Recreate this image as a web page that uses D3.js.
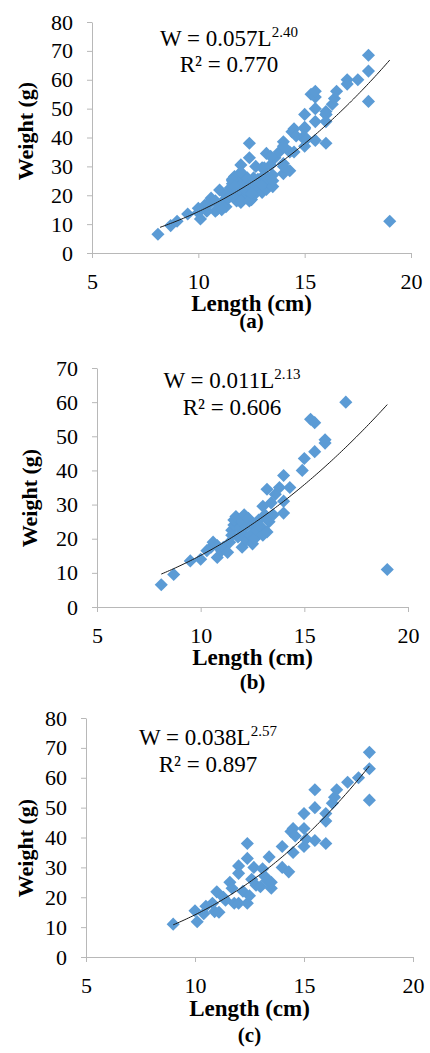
<!DOCTYPE html>
<html>
<head>
<meta charset="utf-8">
<script src="https://cdn.jsdelivr.net/npm/d3@7"></script>
<style>
  body { margin: 0; background: #fff; }
  svg text { font-family: "Liberation Serif", "Times New Roman", serif; fill: #000; }
</style>
</head>
<body>
<div id="chart"></div>
<script>
// Length (cm), weight (g)
const pointsB = [
  [8.1, 6.5], [8.7, 9.5], [9.5, 13.5], [10.0, 14.0], [10.3, 16.5], [10.5, 17.5],
  [10.6, 19.0], [10.8, 14.5], [10.8, 18.0], [11.0, 16.5], [11.1, 17.5], [11.3, 16.0],
  [11.4, 19.0], [11.5, 21.0], [11.5, 22.5], [11.6, 24.0], [11.6, 25.5], [11.7, 26.5],
  [11.8, 20.5], [11.9, 23.0], [12.0, 17.5], [12.0, 21.5], [12.0, 25.0], [12.1, 27.0],
  [12.2, 19.5], [12.2, 23.5], [12.3, 26.0], [12.4, 21.0], [12.5, 18.5], [12.5, 24.0],
  [12.6, 20.0], [12.7, 22.5], [12.8, 25.5], [12.9, 23.5], [13.0, 29.5], [13.0, 21.0],
  [13.1, 27.0], [13.2, 22.0], [13.2, 34.5], [13.3, 25.0], [13.4, 30.5], [13.5, 27.0],
  [13.6, 33.0], [13.8, 35.0], [14.0, 38.5], [14.0, 31.0], [14.0, 27.5], [14.3, 35.0],
  [14.9, 40.0], [15.0, 43.5], [15.3, 55.0], [15.5, 54.0], [15.5, 45.5], [16.0, 49.0],
  [16.0, 48.0], [17.0, 60.0], [19.0, 11.0]
];

// panel (c)
const pointsC = [
  [9.0, 11.0], [10.0, 15.5], [10.1, 11.8], [10.4, 14.5], [10.5, 17.0], [10.8, 18.0],
  [10.9, 15.2], [11.0, 21.8], [11.1, 15.0], [11.3, 20.0], [11.4, 19.0], [11.6, 25.0],
  [11.7, 23.0], [11.8, 18.0], [12.0, 30.5], [12.0, 28.0], [12.0, 18.0], [12.2, 22.0],
  [12.4, 38.0], [12.4, 33.0], [12.4, 18.0], [12.5, 20.5], [12.6, 26.0], [12.7, 30.0],
  [12.8, 24.0], [13.0, 23.5], [13.1, 29.5], [13.2, 27.0], [13.3, 25.5], [13.4, 33.5],
  [13.5, 23.0], [13.5, 25.0], [14.0, 37.0], [14.0, 30.0], [14.3, 28.5], [14.4, 42.0],
  [14.5, 43.0], [14.5, 35.0], [14.6, 40.5], [15.0, 48.0], [15.0, 43.0], [15.0, 37.0],
  [15.1, 39.5], [15.5, 56.0], [15.5, 50.0], [15.5, 39.0], [16.0, 48.0], [16.0, 45.5],
  [16.0, 38.0], [16.3, 51.5], [16.4, 53.5], [16.5, 56.0], [17.0, 58.5], [17.5, 60.0],
  [18.0, 68.5], [18.0, 63.0], [18.0, 52.5]
];

// panel (a) is both groups together
const pointsA = pointsB.concat(pointsC);

const xTicks = [5, 10, 15, 20];
const yTicksA = [0, 10, 20, 30, 40, 50, 60, 70, 80];
const yTicksB = [0, 10, 20, 30, 40, 50, 60, 70];

// power fits W = a L^b (curve in (b) is drawn near 0.11, label says 0.011)
const fitCoef = [0.057, 0.112, 0.038];
const fitExp = [2.40, 2.13, 2.57];
const fitFrom = [8.2, 8.1, 9.0];
const fitTo = [19.0, 19.0, 18.0];
const coefLabels = ['0.057', '0.011', '0.038'];
const expLabels = ['2.40', '2.13', '2.57'];
const r2Labels = ['0.770', '0.606', '0.897'];
const captions = ['(a)', '(b)', '(c)'];

const svg = d3.select('#chart').append('svg')
  .attr('width', 430)
  .attr('height', 1053);

const panels = [
  { pts: pointsA, yTicks: yTicksA, left: 92, right: 411, top: 22, bottom: 253,
    eqX: 229, eqY: 46, r2Y: 72, ytX: 33, ytY: 131, xtY: 311, capGap: 17 },
  { pts: pointsB, yTicks: yTicksB, left: 97, right: 408, top: 368, bottom: 607,
    eqX: 232, eqY: 388, r2Y: 415, ytX: 37, ytY: 498, xtY: 665, capGap: 24 },
  { pts: pointsC, yTicks: yTicksA, left: 86, right: 413, top: 718, bottom: 957,
    eqX: 208, eqY: 745, r2Y: 772, ytX: 33, ytY: 848, xtY: 1016, capGap: 26 }
];

const diamond = d3.symbol().type(d3.symbolSquare).size(86);

panels.forEach((p, i) => {
  const x = d3.scaleLinear().domain([5, 20]).range([p.left, p.right]);
  const y = d3.scaleLinear().domain([0, d3.max(p.yTicks)]).range([p.bottom, p.top]);
  const g = svg.append('g');

  // axes
  const gx = g.append('g')
    .attr('transform', `translate(0,${p.bottom})`)
    .call(d3.axisBottom(x).tickValues(xTicks).tickSize(5).tickSizeOuter(0).tickPadding(15));
  const gy = g.append('g')
    .attr('transform', `translate(${p.left},0)`)
    .call(d3.axisLeft(y).tickValues(p.yTicks).tickSize(5).tickSizeOuter(0).tickPadding(14));
  [gx, gy].forEach(a => {
    a.attr('font-family', null);
    a.selectAll('path, line').attr('stroke', '#b8b8b8');
    a.selectAll('text').attr('font-size', 22);
  });

  // points
  g.append('g').selectAll('path')
    .data(p.pts)
    .join('path')
    .attr('d', diamond)
    .attr('transform', d => `translate(${x(d[0])},${y(d[1])}) rotate(45)`)
    .attr('fill', '#5b9bd5');

  // trend line
  const line = d3.line().x(d => x(d)).y(d => y(fitCoef[i] * Math.pow(d, fitExp[i])));
  const ls = d3.range(fitFrom[i], fitTo[i], 0.1).concat([fitTo[i]]);
  g.append('path')
    .attr('d', line(ls))
    .attr('fill', 'none')
    .attr('stroke', '#1a1a1a')
    .attr('stroke-width', 1);

  // equation
  const eq = g.append('text')
    .attr('x', p.eqX).attr('y', p.eqY)
    .attr('text-anchor', 'middle')
    .attr('font-size', 23);
  eq.append('tspan').text(`W = ${coefLabels[i]}L`);
  eq.append('tspan').attr('dy', -9).attr('font-size', 15).text(expLabels[i]);

  g.append('text')
    .attr('x', p.eqX).attr('y', p.r2Y)
    .attr('text-anchor', 'middle')
    .attr('font-size', 23)
    .text(`R² = ${r2Labels[i]}`);

  // x title with panel caption underneath, as one block
  const cx = (p.left + p.right) / 2;
  const xt = g.append('text')
    .attr('x', cx).attr('y', p.xtY)
    .attr('text-anchor', 'middle')
    .attr('font-weight', 'bold');
  xt.append('tspan').attr('font-size', 23).text('Length (cm)');
  xt.append('tspan').attr('x', cx).attr('dy', p.capGap).attr('font-size', 21).text(captions[i]);

  g.append('text')
    .attr('transform', `translate(${p.ytX},${p.ytY}) rotate(-90)`)
    .attr('text-anchor', 'middle')
    .attr('font-size', 22).attr('font-weight', 'bold')
    .text('Weight (g)');
});
</script>
</body>
</html>
